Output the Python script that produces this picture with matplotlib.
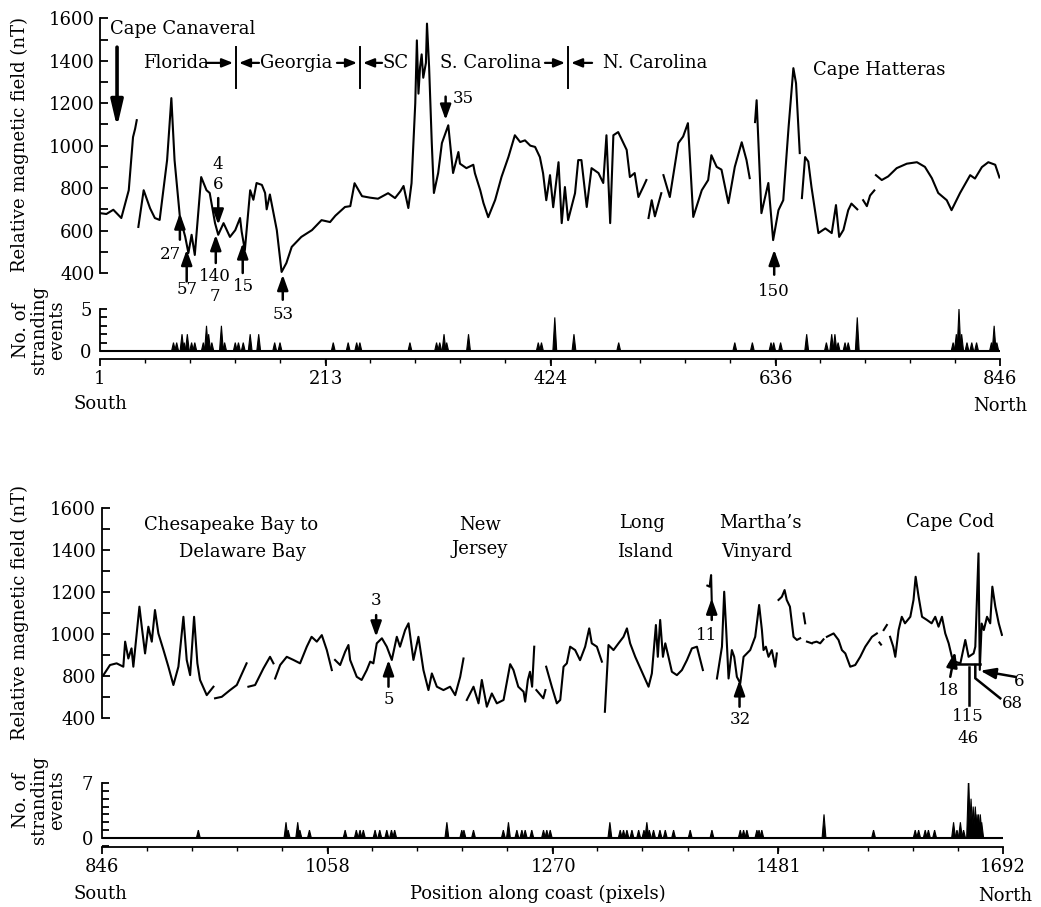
import numpy as np
import matplotlib
matplotlib.use('Agg')
import matplotlib.pyplot as plt
from matplotlib.ticker import MultipleLocator

plt.rcParams['font.family'] = ['DejaVu Serif']
plt.rcParams['font.size'] = 13

nan = np.nan

# ---- upper panel: Cape Canaveral to Cape Hatteras (pixels 1-846) ----
top_pos = [
    1, 7, 13.5, 21, 28, 32, 34, 35.5, nan,
    37, 42, 48, 52.5, 57, 64, 68, 71, 76, 81,
    84, 87, 90, 96, 101, 104, 109, 112, 117, 123,
    128, 132.5, 134, 137, 142, 145, 148, 153, 156, 157.5,
    160.5, 167, 171.5, 176, 181, 190, 200, 209, 217, 222,
    231, 236, 240, 247, 254.5, 262, 271.5, 278, 283, 286,
    290.5, 293.5, 297, 298.5, 300, 301.5, 303, 304.5, 307, 308,
    310, 312.5, 314.5, 318.5, 322, 328, 332.5, 337.5, 339, 345,
    351.5, 353, 358, 361, 365.5, 372, 378, 384.5, 390.5, 395.5,
    400, 405, 409.5, 414, 417, 420, 423.5, 426.5, 431.5, 434.5,
    437.5, 440.5, 447, 450, 453, 458, 462.5, 469, 473.5, 476.5,
    480, 483, 487.5, 492.5, 495.5, 498.5, 503, 506.5, 511, 514, nan,
    516, 519, 522, 528, nan,
    530, 536, 544, 548.5, 553, 558, 566, 572, 575, 580, 584.5, 591, 597, 603.5, 608, 611, nan,
    616, 617.5, 622, 628.5, 633, 638, 642.5, 647.5, 650.5, 652, 654.5, 658, nan,
    660, 663, 666, 669, 675.5, 682, 688, 692, 695, 699, 703.5, 706.5, 712, nan,
    717.5, 721, 724, 728, nan,
    729.5, 735, 741, 749, 758.5, 768, 775.5, 782, 788, 796, 800.5, 808.5, 818, 822.5, 829, 835, 841.5, 845.5,
]
top_field = [
    682, 678, 698, 659, 790, 1040, 1080, 1120, nan,
    617, 790, 705, 659, 650, 932, 1224, 932, 664, 571,
    494, 580, 485, 852, 790, 777, 635, 580, 635, 570,
    602, 659, 595, 508, 790, 745, 824, 815, 777, 700,
    770, 602, 405, 447, 523, 570, 602, 649, 640, 670,
    711, 715, 823, 762, 755, 750, 776, 753, 785, 810,
    706, 823, 1200, 1496, 1245, 1370, 1430, 1320, 1390, 1575,
    1370, 1012, 777, 871, 1012, 1096, 871, 970, 915, 894,
    910, 870, 790, 730, 663, 744, 853, 947, 1049, 1017,
    1025, 1000, 994, 946, 870, 743, 861, 710, 922, 635,
    805, 649, 776, 932, 932, 711, 894, 871, 824, 1049,
    635, 1049, 1064, 1012, 980, 852, 871, 758, 805, 838, nan,
    659, 743, 667, 776, nan,
    861, 758, 1012, 1043, 1106, 664, 790, 838, 955, 900, 887, 729, 900, 1016, 932, 847, nan,
    1111, 1214, 682, 824, 555, 696, 743, 1087, 1275, 1365, 1294, 965, nan,
    753, 946, 925, 805, 588, 610, 588, 720, 570, 603, 696, 727, 700, nan,
    743, 715, 765, 789, nan,
    861, 838, 855, 894, 915, 922, 900, 847, 777, 743, 696, 777, 861, 845, 899, 922, 910, 850,
]
top_strand_pos = [
    70, 73, 78, 80, 83, 87, 90, 98, 101, 103,
    106, 115, 118, 128, 131, 135.5, 142, 150, 165, 170,
    220, 234, 242, 245, 292, 317, 320, 324, 326.5, 347,
    412.5, 415.5, 428, 446, 488, 597, 613.5, 631, 633.5, 640,
    664.5, 683, 688, 691, 694, 700.5, 703.5, 712, 802, 805,
    807.5, 810, 815, 819.5, 824, 838, 840.5, 843,
]
top_strand_n = [
    1, 1, 2, 1, 2, 1, 1, 1, 3, 2,
    1, 3, 1, 1, 1, 1, 2, 2, 1, 1,
    1, 1, 1, 1, 1, 1, 1, 2, 1, 2,
    1, 1, 4, 2, 1, 1, 1, 1, 1, 1,
    2, 1, 2, 2, 1, 1, 1, 4, 1, 2,
    5, 2, 1, 1, 1, 1, 3, 1,
]
top_ticks = [1, 213, 424, 636, 846]

# ---- lower panel: Chesapeake Bay to Cape Cod (pixels 846-1692) ----
bot_pos = [
    847.6, 853.8, 860, 866.3, 868, 871, 874, 875.7, 878.9, 881.4,
    883.6, 886.7, 889.8, 893, 896, 899.2, 904, 908.6, 913.3, 918,
    922.7, 925.8, 929, 932.7, 935.8, 938.3, 944.6, 950.9, nan,
    952.4, 958.7, 966.5, 972.8, 982, nan,
    983.7, 990, 997.8, 1004, 1007.2, nan,
    1008.8, 1013.5, 1019.7, 1026, 1032.2, 1038.5, 1043, 1047.9, 1052.6, 1057.3, 1062, nan,
    1065, 1069.8, 1074.5, 1077.6, 1079.2, 1085.4, 1090, 1094.8, 1098, 1101,
    1104.2, 1109, 1113.6, 1118.3, 1123, 1126, 1130.8, 1134, 1138.6, 1143.3,
    1148, 1152.7, 1155.9, 1160.6, 1166.8, 1173, 1177.8, 1182.5, 1185.6, nan,
    1188.7, 1195, 1199.7, 1202.8, 1207.5, 1212.2, 1216.9, 1223.2, 1229.4, 1232.5,
    1237, 1242, 1243.5, 1246, 1248, 1250, 1252, nan,
    1254, 1260.5, 1262.5, nan,
    1263.2, 1268.5, 1273.2, 1276.4, 1279.5, 1282.6, 1285.7, 1290.4, 1295, 1299.8,
    1303.6, 1306, 1310.8, 1315.5, nan,
    1318.3, 1321.7, 1326.4, 1331.1, 1335.8, 1339, 1342, 1346.8, 1353, 1359.3,
    1362.4, 1366.2, 1368, 1370.2, 1372.8, 1375, 1378, 1381.2, 1385.9, 1390.6,
    1395.3, 1400, 1404.7, 1410.3, nan,
    1414.5, 1416.6, 1418, 1418.6, nan,
    1423.5, 1428.2, 1430.3, 1432.2, 1434.4, 1437.5, 1439.7, 1442.2, 1445.4, 1448.5,
    1454.7, 1459.4, 1463.1, 1465.7, 1467.2, 1469.4, 1471.9, 1475, 1478.2, 1479.7, nan,
    1481.3, 1484.4, 1487, 1489, 1492, 1495.4, 1498.5, 1501.6, nan,
    1504.8, 1506.3, nan,
    1508, 1512.6, nan,
    1514.2, 1517, 1520.4, 1523.5, nan,
    1526.7, 1533, 1537.6, 1540.8, 1544, 1548.6, 1553.3, 1558, 1562.7, 1569, 1573.6, nan,
    1576, 1577.5, nan,
    1580, 1583, nan,
    1586, 1589, 1590.9, 1594, 1597, 1600, 1605, 1608, 1610, 1612.8,
    1616, 1620.6, 1625, 1628.4, 1631.5, 1634.7, 1637.8, 1641, 1644, 1647,
    1652, 1656.6, 1659.7, 1664.4, 1666, 1669, 1670.2, 1672, 1674, 1677,
    1680, 1682, 1684.8, 1688, 1691,
]
bot_field = [
    805, 853, 861, 845, 964, 884, 932, 845, 1003, 1130,
    1035, 908, 1035, 964, 1114, 1003, 924, 845, 758, 845,
    1082, 877, 805, 1082, 861, 782, 710, 750, nan,
    695, 702, 734, 758, 861, nan,
    750, 758, 837, 892, 861, nan,
    789, 853, 892, 877, 861, 940, 987, 964, 995, 924, 829, nan,
    877, 853, 916, 948, 877, 797, 782, 829, 869, 861,
    956, 980, 940, 877, 987, 940, 1019, 1051, 877, 987,
    829, 734, 813, 750, 734, 750, 710, 797, 884, nan,
    687, 750, 671, 782, 655, 718, 671, 687, 857, 829,
    750, 726, 679, 782, 821, 750, 940, nan,
    734, 695, 734, nan,
    845, 750, 671, 687, 845, 861, 940, 924, 876, 940,
    1027, 956, 940, 869, nan,
    631, 948, 924, 956, 987, 1027, 956, 892, 821, 750,
    813, 1043, 892, 1067, 892, 956, 892, 821, 805, 829,
    876, 932, 940, 829, nan,
    1230, 1225, 1280, 1160, nan,
    789, 940, 1201, 1019, 789, 924, 892, 797, 766, 892,
    924, 987, 1138, 1019, 924, 940, 892, 924, 845, 908, nan,
    1162, 1177, 1209, 1162, 1130, 987, 972, 980, nan,
    1098, 1051, nan,
    964, 956, nan,
    960, 964, 956, 975, nan,
    987, 1003, 972, 924, 908, 845, 853, 892, 940, 987, 1003, nan,
    960, 950, nan,
    1019, 1043, nan,
    987, 940, 892, 1019, 1082, 1051, 1082, 1162, 1272, 1177,
    1082, 1067, 1051, 1082, 1035, 1082, 1003, 956, 892, 869,
    861, 972, 892, 908, 940, 1383, 830, 1050, 1019, 1082,
    1051, 1225, 1130, 1051, 996,
]
bot_strand_pos = [
    936.7, 1019, 1021, 1030, 1032, 1041, 1074.5, 1085, 1088.5, 1091.6,
    1102.6, 1107, 1113.6, 1118, 1121, 1170, 1184, 1186, 1195, 1223,
    1227.8, 1235.7, 1240.4, 1243.5, 1249.7, 1260.7, 1263.8, 1267, 1323, 1332.7,
    1335.8, 1339, 1343.7, 1350, 1355, 1357.7, 1360, 1364, 1370, 1375,
    1382.8, 1398.4, 1418.8, 1445.4, 1448.5, 1451.6, 1461, 1463, 1465.6, 1524,
    1570.5, 1609.6, 1612.8, 1619, 1622, 1627.8, 1645.6, 1648.8, 1652, 1655,
    1659.7, 1662, 1664, 1666, 1667.6, 1669, 1670.7, 1672,
]
bot_strand_n = [
    1, 2, 1, 2, 1, 1, 1, 1, 1, 1,
    1, 1, 1, 1, 1, 2, 1, 1, 1, 1,
    2, 1, 1, 1, 1, 1, 1, 1, 2, 1,
    1, 1, 1, 1, 1, 2, 1, 1, 1, 1,
    1, 1, 1, 1, 1, 1, 1, 1, 1, 3,
    1, 1, 1, 1, 1, 1, 2, 1, 2, 1,
    8, 5, 4, 4, 3, 3, 3, 2,
]
bot_ticks = [846, 1058, 1270, 1481, 1692]
bot_field_ticks = [600, 800, 1000, 1200, 1400, 1600]
bot_field_labels = ['400', '800', '1000', '1200', '1400', '1600']

W, H = 1041, 907
fig = plt.figure(figsize=(W / 100, H / 100), dpi=100)


def box(x0, y0, x1, y1):
    # reference pixel box -> figure fraction
    return [x0 / W, 1 - y1 / H, (x1 - x0) / W, (y1 - y0) / H]


def ftext(x, y, s, **kw):
    fig.text(x / W, 1 - y / H, s, ha=kw.pop('ha', 'center'), va=kw.pop('va', 'center'), **kw)


def style_field(ax, xlim, ylim):
    for s in ['top', 'right', 'bottom']:
        ax.spines[s].set_visible(False)
    ax.spines['left'].set_linewidth(1.3)
    ax.set_xlim(*xlim)
    ax.set_ylim(*ylim)
    ax.set_xticks([])
    ax.yaxis.set_minor_locator(MultipleLocator(100))
    ax.tick_params(axis='y', which='both', direction='in', length=6, width=1.3, pad=4)
    ax.patch.set_alpha(0)


def style_strand(ax, ticks, ymax, ybot):
    ax.set_xlim(ticks[0], ticks[-1])
    ax.set_ylim(ybot, ymax)
    for s in ['top', 'right']:
        ax.spines[s].set_visible(False)
    ax.spines['left'].set_bounds(0, ymax)
    ax.spines['left'].set_linewidth(1.3)
    ax.spines['bottom'].set_linewidth(1.3)
    ax.set_yticks([0, ymax])
    ax.yaxis.set_minor_locator(MultipleLocator(1))
    ax.tick_params(axis='y', which='both', direction='in', length=5, width=1.3, pad=6)
    ax.set_xticks(ticks)
    ax.set_xticks(np.linspace(ticks[0], ticks[-1], 21), minor=True)
    ax.tick_params(axis='x', which='major', direction='out', length=5, width=1.3, pad=3)
    ax.tick_params(axis='x', which='minor', direction='out', length=3, width=1.0)
    ax.axhline(0, color='k', lw=1.5)
    ax.patch.set_alpha(0)


def spikes(ax, pos, n, half=1.8):
    # narrow triangular spikes, as in the printed histogram
    for p, c in zip(pos, n):
        ax.fill([p - half, p, p + half], [0, c, 0], color='k', lw=0.8)


def arrow(ax, x0, y0, x1, y1, lw=1.8, hl=0.7, hw=0.25):
    ax.annotate('', xy=(x1, y1), xytext=(x0, y0), annotation_clip=False,
                arrowprops=dict(arrowstyle=f'-|>,head_length={hl},head_width={hw}',
                                color='k', lw=lw, shrinkA=0, shrinkB=0))


def num(ax, x, y, s, **kw):
    ax.text(x, y, s, fontsize=12, ha=kw.pop('ha', 'center'), va='center', clip_on=False, **kw)


# upper panel
ax1 = fig.add_axes(box(100, 18.3, 1000, 273))
st1 = fig.add_axes(box(100, 309, 1000, 359))
style_field(ax1, (1, 846), (400, 1600))
ax1.set_yticks(np.arange(400, 1601, 200))
ax1.plot(top_pos, top_field, color='k', lw=1.5)
style_strand(st1, top_ticks, 5, -0.95)
spikes(st1, top_strand_pos, top_strand_n)

ax1.text(10.4, 1550, 'Cape Canaveral', ha='left', va='center')
arrow(ax1, 17, 1464, 17, 1087, lw=2.6, hl=1.2, hw=0.28)
for name, x in [('Florida', 41.7), ('Georgia', 151.2), ('SC', 266.7),
                ('S. Carolina', 320), ('N. Carolina', 473)]:
    ax1.text(x, 1390, name, ha='left', va='center')
for xl, a0, a1, b0, b1 in [(128.7, 101.5, 125.9, 150.3, 131.5),
                           (245.1, 223.5, 242.3, 265.8, 248),
                           (440.4, 418.8, 437.6, 463, 443.3)]:
    ax1.plot([xl, xl], [1465, 1272], color='k', lw=1.4)
    arrow(ax1, a0, 1390, a1, 1390, lw=1.6, hl=0.5, hw=0.2)
    arrow(ax1, b0, 1390, b1, 1390, lw=1.6, hl=0.5, hw=0.2)
ax1.text(670.5, 1357, 'Cape Hatteras', ha='left', va='center')

arrow(ax1, 76, 557, 76, 682)
num(ax1, 66.7, 486, '27')
arrow(ax1, 82.4, 360, 82.4, 510)
num(ax1, 82.4, 322, '57')
arrow(ax1, 109.7, 447, 109.7, 580)
num(ax1, 108.7, 384, '140')
num(ax1, 108.7, 290, '7')
arrow(ax1, 112, 753, 112, 627)
num(ax1, 112, 910, '4')
num(ax1, 112, 816, '6')
arrow(ax1, 135, 400, 135, 541)
num(ax1, 135.6, 337, '15')
arrow(ax1, 172.6, 274, 172.6, 392)
num(ax1, 172.6, 204, '53')
arrow(ax1, 325.5, 1231, 325.5, 1121)
num(ax1, 342, 1224, '35')
arrow(ax1, 634, 392, 634, 510)
num(ax1, 634, 313, '150')

# lower panel
ax2 = fig.add_axes(box(101.7, 507.7, 1003, 718.3))
st2 = fig.add_axes(box(101.7, 783, 1003, 847))
style_field(ax2, (846, 1692), (600, 1600))
ax2.set_yticks(bot_field_ticks)
ax2.set_yticklabels(bot_field_labels)
ax2.plot(bot_pos, bot_field, color='k', lw=1.5)
style_strand(st2, bot_ticks, 7, -1.15)
spikes(st2, bot_strand_pos, bot_strand_n)

ax2.text(967.4, 1518, 'Chesapeake Bay to', ha='center', va='center')
ax2.text(977.7, 1388, 'Delaware Bay', ha='center', va='center')
ax2.text(1201, 1518, 'New', ha='center', va='center')
ax2.text(1201, 1405, 'Jersey', ha='center', va='center')
ax2.text(1353, 1526, 'Long', ha='center', va='center')
ax2.text(1356, 1391, 'Island', ha='center', va='center')
ax2.text(1464, 1526, "Martha\u2019s", ha='center', va='center')
ax2.text(1460.7, 1391, 'Vinyard', ha='center', va='center')
ax2.text(1642.6, 1534, 'Cape Cod', ha='center', va='center')

arrow(ax2, 1103.6, 1090, 1103.6, 987)
num(ax2, 1103.6, 1161.5, '3')
arrow(ax2, 1115.2, 750, 1115.2, 877)
num(ax2, 1115.2, 687, '5')
arrow(ax2, 1418.6, 1067, 1418.6, 1170)
num(ax2, 1414, 995, '11')
arrow(ax2, 1444.7, 655, 1444.7, 782)
num(ax2, 1445.4, 592, '32')
arrow(ax2, 1642.5, 797, 1647, 916)
num(ax2, 1641, 734, '18')
ax2.plot([1641, 1670], [858, 858], color='k', lw=1.8)
arrow(ax2, 1703.5, 797, 1670.7, 826)
num(ax2, 1707, 774, '6')
ax2.plot([1689.4, 1666, 1666], [695, 790, 853], color='k', lw=1.8, clip_on=False)
num(ax2, 1701, 671, '68')
ax2.plot([1660, 1660], [663, 845], color='k', lw=1.8, clip_on=False)
num(ax2, 1659, 608, '115')
num(ax2, 1659, 505, '46')

# axis titles
for yc, ys in [(145, 330), (613, 800)]:
    ftext(20, yc, 'Relative magnetic field (nT)', rotation=90)
    ftext(39, ys, 'No. of\nstranding\nevents', rotation=90, linespacing=1.0)
ftext(100, 404, 'South')
ftext(1000, 406, 'North')
ftext(100, 894, 'South')
ftext(1005, 896, 'North')
ftext(538, 894, 'Position along coast (pixels)')

fig.savefig('out.png', dpi=100)
